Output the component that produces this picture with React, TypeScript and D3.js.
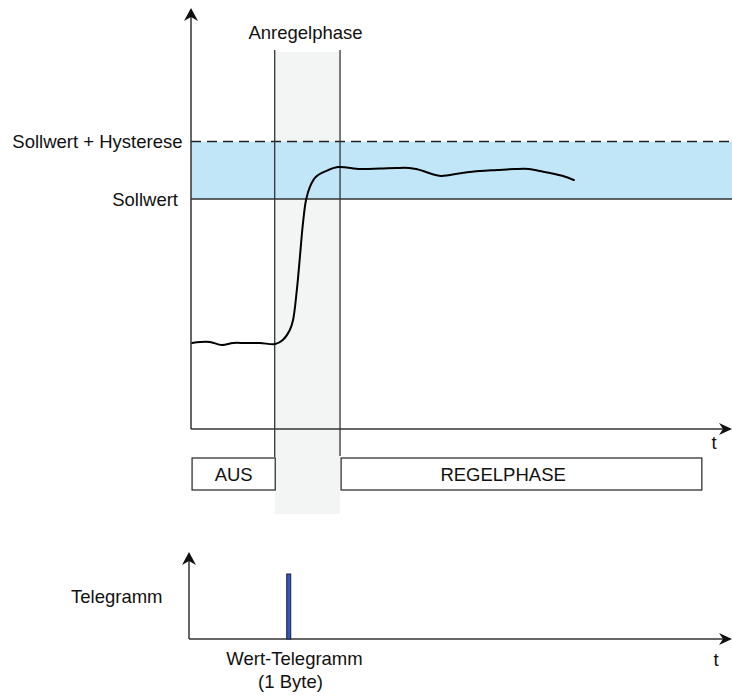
import * as d3 from "d3"

// time axis (arbitrary units) and process value of the controlled variable
const curveT = [0.2, 1.7, 3.5, 5.7, 7.8, 10.0, 12.8, 15.6, 17.0, 18.3, 18.9, 19.6, 20.2, 20.7, 21.3, 22.0, 23.1, 25.0, 27.2, 31.3, 35.0, 38.1, 40.4, 41.7, 43.0, 44.6, 46.3, 50.2, 53.5, 56.7, 60.0, 62.6, 64.6, 66.5, 68.9, 70.9]
const curveV = [7.48, 7.57, 7.57, 7.3, 7.48, 7.48, 7.48, 7.39, 7.74, 8.61, 9.48, 12.09, 15.13, 17.74, 19.91, 21.04, 21.91, 22.43, 22.78, 22.61, 22.65, 22.7, 22.7, 22.61, 22.43, 22.17, 22.0, 22.26, 22.43, 22.52, 22.61, 22.61, 22.43, 22.26, 22.0, 21.65]

const sollwert = 20
const hysterese = 5

// phases: [label, start, end]
const phaseLabels = ["AUS", "REGELPHASE"]
const phaseStart = [0.2, 27.8]
const phaseEnd = [15.6, 94.6]
const phaseTextT = [7.9, 57.8]

const anregelStart = 15.5
const anregelEnd = 27.6

// telegram events
const telegramT = [18.1]
const telegramV = [1]

const W = 732
const H = 697
const FONT = "'Liberation Sans', Arial, sans-serif"
const FS = 18.5

export default function App() {
  const x = d3.scaleLinear().domain([0, 100]).range([191, 731])
  const y = d3.scaleLinear().domain([0, 36.26]).range([429, 12])
  const yLow = d3.scaleLinear().domain([0, 1]).range([639, 574])

  const line = d3
    .line<number>()
    .x((_, i) => x(curveT[i]))
    .y((d) => y(d))
    .curve(d3.curveCatmullRom.alpha(0.5))

  const x0 = x(0)
  const xEnd = 731
  const xAxisY = y(0)
  const lowX0 = 189
  const lowAxisY = yLow(0)

  const upArrow = (cx: number, cy: number) =>
    `M${cx},${cy} L${cx - 7},${cy + 13} L${cx},${cy + 9} L${cx + 7},${cy + 13} Z`
  const rightArrow = (cx: number, cy: number) =>
    `M${cx},${cy} L${cx - 13},${cy - 6} L${cx - 9},${cy} L${cx - 13},${cy + 6} Z`

  const boxTop = 458
  const boxBottom = 490

  return (
    <svg
      width={W}
      height={H}
      style={{ position: "absolute", left: 0, top: 0, background: "#fff" }}
      fontFamily={FONT}
      fontSize={FS}
    >
      {/* Anregelphase band */}
      <rect x={x(anregelStart)} y={52} width={x(anregelEnd) - x(anregelStart)} height={462} fill="#f3f5f4" />

      {/* hysteresis band */}
      <rect x={x0} y={y(sollwert + hysterese)} width={W - x0} height={y(sollwert) - y(sollwert + hysterese)} fill="#c0e6f7" />
      <line x1={x0} x2={W} y1={y(sollwert + hysterese)} y2={y(sollwert + hysterese)} stroke="#222" strokeWidth={1.3} strokeDasharray="10,6" />
      <line x1={x0} x2={W} y1={y(sollwert)} y2={y(sollwert)} stroke="#333" strokeWidth={1.3} />

      <text x={182.5} y={y(sollwert + hysterese) + 7} textAnchor="end" fill="#111">Sollwert + Hysterese</text>
      <text x={178} y={y(sollwert) + 7} textAnchor="end" fill="#111">Sollwert</text>

      {/* phase boundaries */}
      <line x1={x(anregelStart)} x2={x(anregelStart)} y1={50} y2={457} stroke="#333" strokeWidth={1.3} />
      <line x1={x(anregelEnd)} x2={x(anregelEnd)} y1={50} y2={456} stroke="#333" strokeWidth={1.3} />
      <text x={305.5} y={39} textAnchor="middle" fill="#111">Anregelphase</text>

      {/* process value */}
      <path d={line(curveV) ?? ""} fill="none" stroke="#000" strokeWidth={2} strokeLinecap="round" />

      {/* upper axes */}
      <line x1={x0} x2={x0} y1={xAxisY} y2={12} stroke="#333" strokeWidth={1.5} />
      <path d={upArrow(x0, 8)} fill="#111" />
      <line x1={x0} x2={xEnd - 4} y1={xAxisY} y2={xAxisY} stroke="#333" strokeWidth={1.5} />
      <path d={rightArrow(xEnd + 1, xAxisY)} fill="#111" />
      <text x={714} y={449} textAnchor="middle" fill="#111">t</text>

      {/* phase boxes */}
      {phaseLabels.map((label, i) => (
        <g key={label}>
          <rect
            x={x(phaseStart[i])}
            y={boxTop}
            width={x(phaseEnd[i]) - x(phaseStart[i])}
            height={boxBottom - boxTop}
            fill="#fff"
            stroke="#333"
            strokeWidth={1.3}
          />
          <text x={x(phaseTextT[i])} y={481} textAnchor="middle" fill="#111">{label}</text>
        </g>
      ))}

      {/* lower chart: telegrams */}
      <line x1={lowX0} x2={lowX0} y1={lowAxisY} y2={556} stroke="#333" strokeWidth={1.5} />
      <path d={upArrow(lowX0, 552)} fill="#111" />
      <line x1={lowX0} x2={xEnd - 4} y1={lowAxisY} y2={lowAxisY} stroke="#333" strokeWidth={1.5} />
      <path d={rightArrow(xEnd + 1, lowAxisY)} fill="#111" />
      <text x={716} y={666} textAnchor="middle" fill="#111">t</text>
      <text x={71} y={603} fill="#111">Telegramm</text>

      {telegramT.map((t, i) => (
        <rect
          key={i}
          x={x(t) - 2}
          y={yLow(telegramV[i])}
          width={4}
          height={lowAxisY - yLow(telegramV[i])}
          fill="#3557b5"
          stroke="#1b1f40"
          strokeWidth={1}
        />
      ))}
      <text x={294.5} y={665} textAnchor="middle" fill="#111">Wert-Telegramm</text>
      <text x={290.5} y={688} textAnchor="middle" fill="#111">(1 Byte)</text>
    </svg>
  )
}
